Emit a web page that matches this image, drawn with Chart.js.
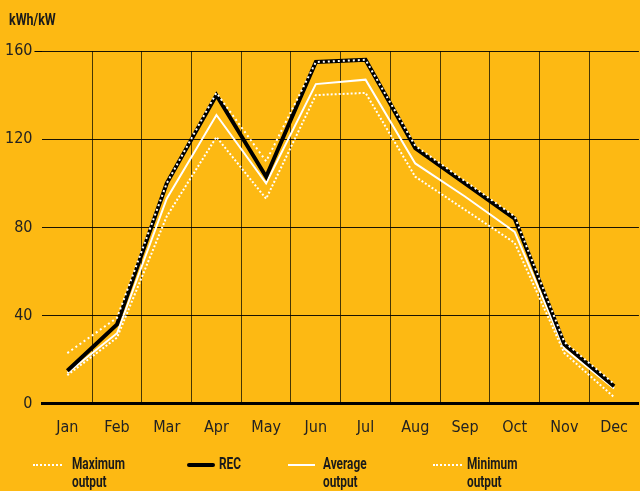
<!DOCTYPE html>
<html>
<head>
<meta charset="utf-8">
<script src="https://cdn.jsdelivr.net/npm/chart.js@4/dist/chart.umd.min.js"></script>
<style>
  html, body { margin: 0; padding: 0; background: #FDB913; }
  #wrap { position: relative; width: 640px; height: 491px; overflow: hidden; }
  #unit { position: absolute; left: 9px; top: 10px; font: bold 16px Roboto, sans-serif; color: #1a1a1a; transform: scaleX(0.78); transform-origin: left top; }
  .leg { position: absolute; top: 455px; font: bold 16px Roboto, sans-serif; color: #1a1a1a; line-height: 18px; transform: scaleX(0.74); transform-origin: left top; }
  .sw { position: absolute; top: 464px; height: 0; }
</style>
</head>
<body>
<div id="wrap">
  <canvas id="solarChart" width="642" height="491"></canvas>
  <div id="unit">kWh/kW</div>
  <div class="sw" style="left:33px;width:29px;border-top:2px dotted #fff;"></div>
  <div class="leg" style="left:72px;">Maximum<br>output</div>
  <div class="sw" style="left:187px;width:28px;border-top:4px solid #000;border-radius:2px;top:463px;"></div>
  <div class="leg" style="left:219px;">REC</div>
  <div class="sw" style="left:288px;width:27px;border-top:2px solid #fff;"></div>
  <div class="leg" style="left:323px;">Average<br>output</div>
  <div class="sw" style="left:433px;width:29px;border-top:2px dotted #fff;"></div>
  <div class="leg" style="left:467px;">Minimum<br>output</div>
</div>
<script>
// months and monthly yield, kWh per kW installed
const months = ["Jan", "Feb", "Mar", "Apr", "May", "Jun", "Jul", "Aug", "Sep", "Oct", "Nov", "Dec"];
const maxOutput = [23, 39, 100, 141, 110, 155, 156, 117, 101, 85, 28, 9];
const recOutput = [15, 36, 100, 140, 103, 155, 156, 116, 100, 84, 27, 8];
const avgOutput = [14, 32, 93, 131, 100, 145, 147, 109, 94, 78, 25, 7];
const minOutput = [13, 30, 85, 121, 93, 140, 141, 103, 88, 73, 23, 3];
const yTicks = [0, 40, 80, 120, 160];

const ctx = document.getElementById("solarChart").getContext("2d");

new Chart(ctx, {
  type: "line",
  data: {
    labels: months,
    datasets: [
      {
        label: "Maximum output",
        data: maxOutput,
        borderColor: "#ffffff",
        borderWidth: 2,
        borderDash: [2, 3],
        pointRadius: 0,
        fill: false,
        tension: 0
      },
      {
        label: "REC",
        data: recOutput,
        borderColor: "#000000",
        borderWidth: 4,
        pointRadius: 0,
        fill: false,
        tension: 0
      },
      {
        label: "Average output",
        data: avgOutput,
        borderColor: "#ffffff",
        borderWidth: 2,
        pointRadius: 0,
        fill: false,
        tension: 0
      },
      {
        label: "Minimum output",
        data: minOutput,
        borderColor: "#ffffff",
        borderWidth: 2,
        borderDash: [2, 2],
        pointRadius: 0,
        fill: false,
        tension: 0
      }
    ]
  },
  options: {
    responsive: false,
    animation: false,
    layout: { padding: { left: 3, right: 0, top: 51, bottom: 40 } },
    plugins: {
      legend: { display: false },
      tooltip: { enabled: false }
    },
    scales: {
      x: {
        offset: true,
        grid: {
          offset: true,
          drawTicks: false,
          // no line on the left and right edges
          color: (c) => (c.type !== "tick" || c.index === 0 ? "transparent" : "rgba(40,30,0,0.85)"),
          lineWidth: 1
        },
        border: { display: true, color: "#000", width: 3 },
        ticks: {
          color: "#222",
          padding: 14,
          font: { family: "DejaVu Sans Condensed", size: 16 }
        }
      },
      y: {
        min: 0,
        max: 160,
        afterBuildTicks: (axis) => { axis.ticks = yTicks.map(v => ({ value: v })); },
        grid: {
          color: "rgba(0,0,0,0.9)",
          lineWidth: 1,
          drawTicks: true,
          tickLength: 8,
          tickColor: (c) => (c.tick && c.tick.value === 160 ? "#000" : "transparent")
        },
        border: { display: false },
        ticks: {
          color: "#222",
          padding: 2,
          font: { family: "DejaVu Sans Condensed", size: 16 }
        }
      }
    }
  }
});
</script>
</body>
</html>
